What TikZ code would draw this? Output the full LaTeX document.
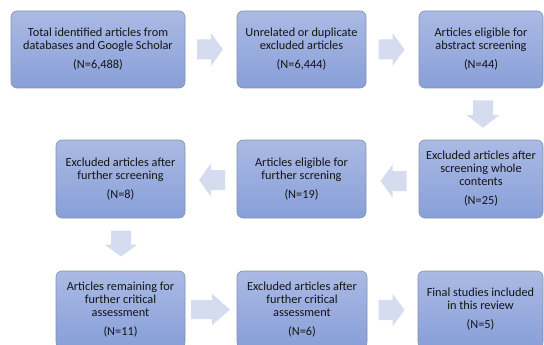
\documentclass[tikz,border=0pt]{standalone}
\usepackage{fontspec}
\setmainfont{Carlito}
\usetikzlibrary{calc}
\definecolor{boxtop}{HTML}{AABAE4}
\definecolor{boxbot}{HTML}{889FD8}
\definecolor{boxline}{HTML}{8390AE}
\definecolor{arrcol}{HTML}{D5DCEF}
\definecolor{txtcol}{HTML}{141414}
\begin{document}
\begin{tikzpicture}[x=1pt,y=-1pt,
  flowbox/.style={draw=boxline, line width=0.6pt, rounded corners=6pt,
    top color=boxtop, bottom color=boxbot, shading angle=0,
    align=center, text=txtcol, font=\fontsize{12.3}{13}\selectfont,
    inner sep=1pt, anchor=center},
  barrow/.pic={\fill[arrcol] (-13,-10) -- (1,-10) -- (1,-16.5) -- (13,0) -- (1,16.5) -- (1,10) -- (-13,10) -- cycle;}
]
\useasboundingbox (0,0) rectangle (544,345);
% row 1
\node[flowbox, minimum width=174pt, minimum height=77pt] (b1) at (98,49.5)
  {Total identified articles from\\databases and Google Scholar\\[6pt](N=6,488)};
\node[flowbox, minimum width=129pt, minimum height=77pt] (b2) at (301.5,49.5)
  {Unrelated or duplicate\\excluded articles\\[6pt](N=6,444)};
\node[flowbox, minimum width=124pt, minimum height=77pt] (b3) at (481,49.5)
  {Articles eligible for\\abstract screening\\[6pt](N=44)};
% row 2
\node[flowbox, minimum width=124pt, minimum height=78pt] (b4) at (481,179)
  {Excluded articles after\\screening whole\\contents\\[6pt](N=25)};
\node[flowbox, minimum width=129pt, minimum height=78pt] (b5) at (301.5,179)
  {Articles eligible for\\further screning\\[6pt](N=19)};
\node[flowbox, minimum width=129pt, minimum height=78pt] (b6) at (120.5,179)
  {Excluded articles after\\further screening\\[6pt](N=8)};
% row 3
\node[flowbox, minimum width=129pt, minimum height=77pt] (b7) at (120.5,309.5)
  {Articles remaining for\\further critical\\assessment\\[6pt](N=11)};
\node[flowbox, minimum width=130pt, minimum height=77pt] (b8) at (302,309.5)
  {Excluded articles after\\further critical\\assessment\\[6pt](N=6)};
\node[flowbox, minimum width=125pt, minimum height=77pt] (b9) at (480.5,309.5)
  {Final studies included\\in this review\\[6pt](N=5)};
% block arrows
\pic at ($(b1.east)!0.5!(b2.west)+(-1,0)$) {barrow};
\pic at ($(b2.east)!0.5!(b3.west)+(-1,0)$) {barrow};
\pic[rotate=-90,yscale=1,xscale=1.05] at ($(b3.south)!0.5!(b4.north)+(2,0)$) {barrow};
\pic[rotate=180] at ($(b4.west)!0.5!(b5.east)+(1,2)$) {barrow};
\pic[rotate=180] at ($(b5.west)!0.5!(b6.east)+(1,1)$) {barrow};
\pic[rotate=-90] at ($(b6.south)!0.5!(b7.north)+(0.5,-1)$) {barrow};
\pic[xscale=1.5,yscale=0.95] at ($(b7.east)!0.5!(b8.west)+(-0.5,0)$) {barrow};
\pic at ($(b8.east)!0.5!(b9.west)+(-1,0.5)$) {barrow};
\end{tikzpicture}
\end{document}
